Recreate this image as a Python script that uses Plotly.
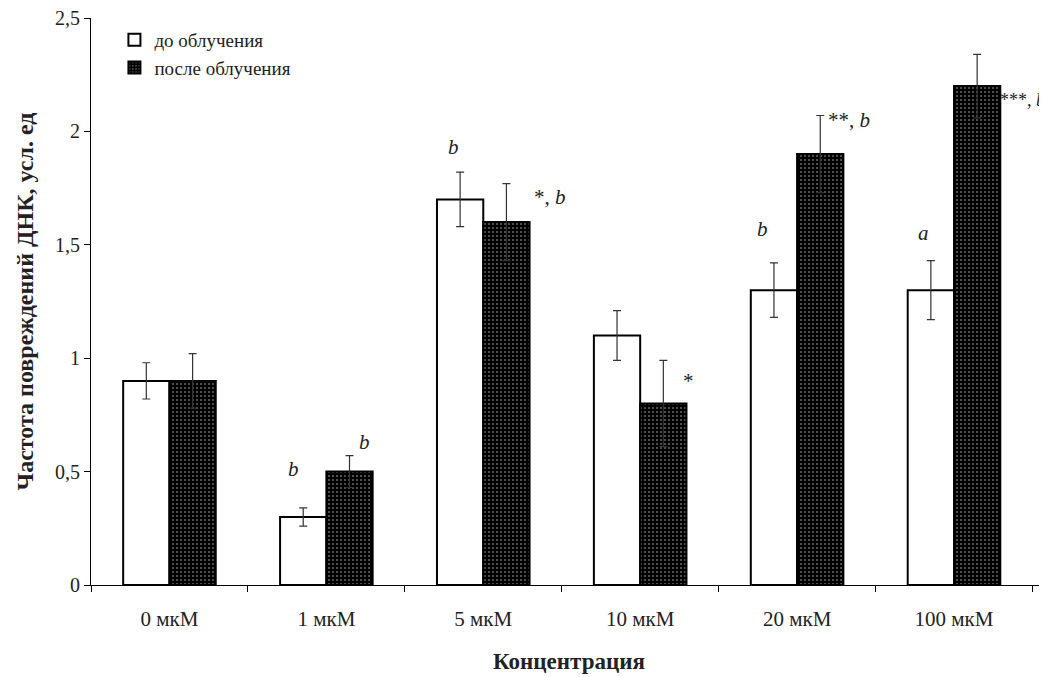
import plotly.graph_objects as go

categories = ["0 мкМ", "1 мкМ", "5 мкМ", "10 мкМ", "20 мкМ", "100 мкМ"]
before = [0.9, 0.3, 1.7, 1.1, 1.3, 1.3]
before_err = [0.08, 0.04, 0.12, 0.11, 0.12, 0.13]
after = [0.9, 0.5, 1.6, 0.8, 1.9, 2.2]
after_err = [0.12, 0.07, 0.17, 0.19, 0.17, 0.14]

# (category, text, y, xshift, xanchor, size)
labels = [
    ("1 мкМ", "<i>b</i>", 0.51, -33, "center", 21),
    ("1 мкМ", "<i>b</i>", 0.63, 38, "center", 21),
    ("5 мкМ", "<i>b</i>", 1.93, -30, "center", 21),
    ("5 мкМ", "*, <i>b</i>", 1.71, 67, "center", 21),
    ("10 мкМ", "*", 0.90, 48, "center", 21),
    ("20 мкМ", "<i>b</i>", 1.57, -35, "center", 21),
    ("20 мкМ", "**, <i>b</i>", 2.05, 52, "center", 21),
    ("100 мкМ", "<i>a</i>", 1.55, -31, "center", 21),
    ("100 мкМ", "***, <i>b</i>", 2.14, 44, "left", 18),
]

serif = "Liberation Serif, Times New Roman, serif"

fig = go.Figure()
fig.add_trace(go.Bar(
    x=categories, y=before, name="до облучения",
    marker=dict(color="white", line=dict(color="black", width=2)),
    error_y=dict(type="data", array=before_err, color="#333333", thickness=1.2, width=4),
))
fig.add_trace(go.Bar(
    x=categories, y=after, name="после облучения",
    marker=dict(color="black", line=dict(color="black", width=2),
                pattern=dict(shape=".", bgcolor="black", fgcolor="#d0d0d0", size=4, solidity=0.2)),
    error_y=dict(type="data", array=after_err, color="#333333", thickness=1.2, width=4),
))

for cat, txt, yv, xs, xa, fs in labels:
    fig.add_annotation(x=cat, y=yv, text=txt, showarrow=False, xshift=xs, xanchor=xa,
                       font=dict(family=serif, size=fs, color="#222222"))

fig.update_layout(
    width=1047, height=677,
    margin=dict(l=83, r=8, t=10, b=100, autoexpand=False),
    paper_bgcolor="white", plot_bgcolor="white",
    barmode="group", bargap=0.41, bargroupgap=0,
    separators=", ",
    font=dict(family=serif, size=18, color="#222222"),
    showlegend=True,
    legend=dict(x=0.0245, y=0.995, xanchor="left", yanchor="top",
                font=dict(family=serif, size=19, color="#222222"),
                bgcolor="rgba(0,0,0,0)", itemsizing="constant", tracegroupgap=0),
    xaxis=dict(
        automargin=False,
        showline=True, linecolor="black", linewidth=1,
        ticks="outside", tickson="boundaries", ticklen=6, tickcolor="black",
        tickfont=dict(family=serif, size=21), ticklabelstandoff=15,
        title=dict(text="<b>Концентрация</b>", font=dict(family=serif, size=23), standoff=22),
    ),
    yaxis=dict(
        automargin=False, ticklabeloverflow="allow",
        range=[0, 2.5], dtick=0.5, showgrid=False, zeroline=False,
        showline=True, linecolor="black", linewidth=1,
        ticks="outside", ticklen=6, tickcolor="black",
        tickfont=dict(family=serif, size=20),
        title=dict(text="<b>Частота повреждений ДНК, усл. ед</b>", font=dict(family=serif, size=24), standoff=14),
    ),
)

fig.write_html("out.html")
